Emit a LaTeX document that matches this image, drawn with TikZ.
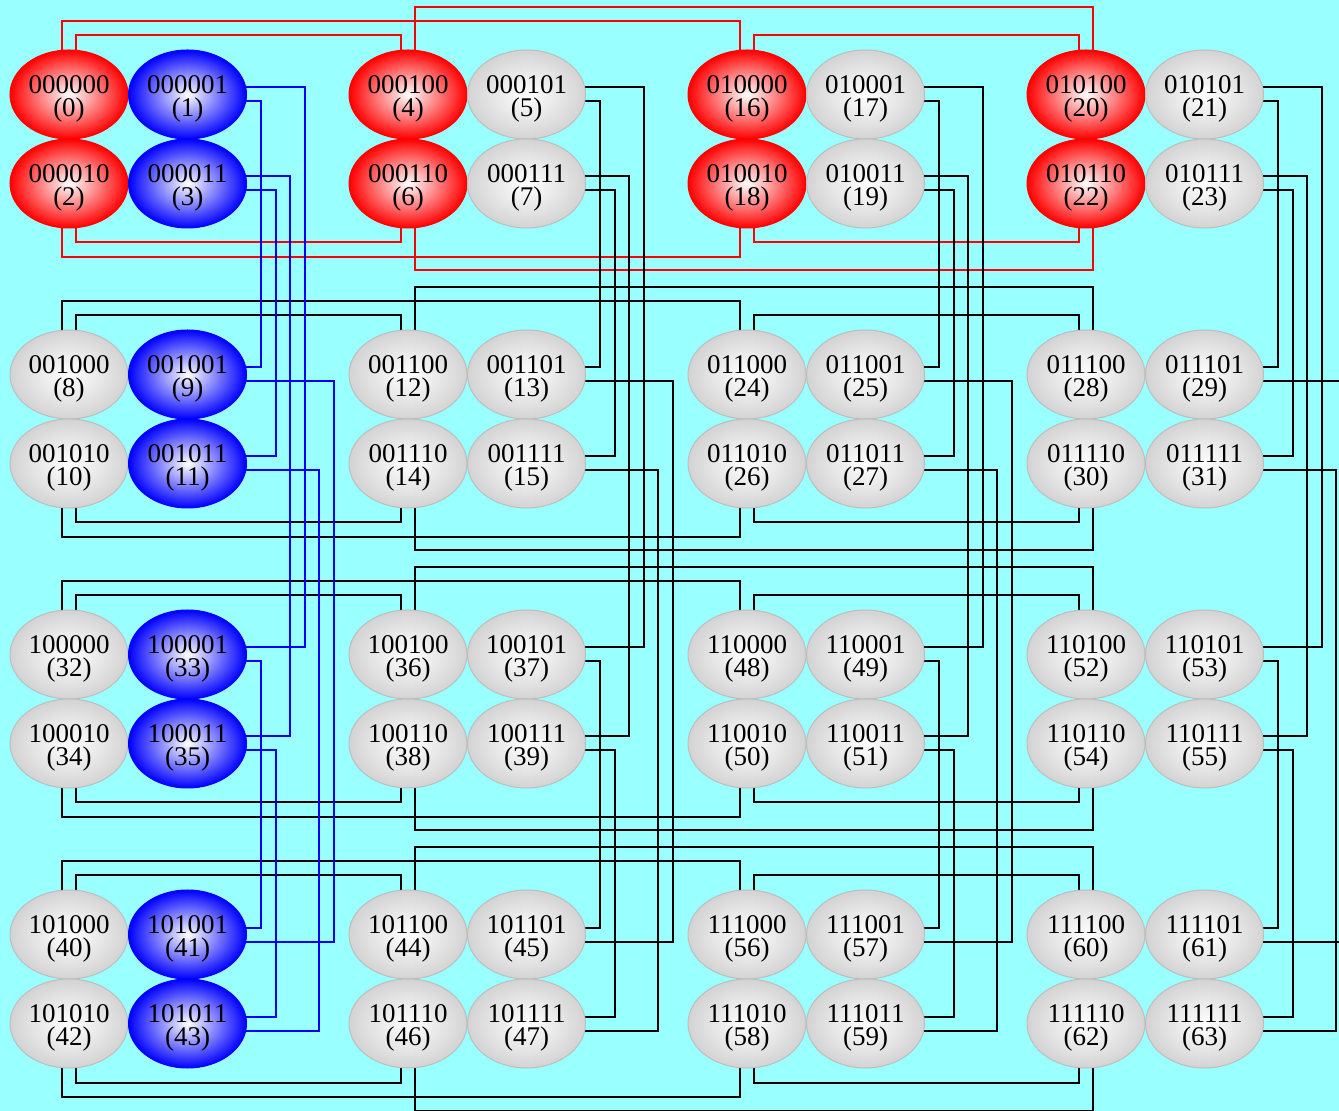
\documentclass[tikz,border=0pt]{standalone}
\usepackage{fontspec}
\setmainfont{Liberation Serif}
\usetikzlibrary{calc,shapes.geometric}
\definecolor{bgcyan}{RGB}{153,255,255}
\definecolor{cellgray}{RGB}{211,211,211}
\definecolor{rimgray}{RGB}{190,190,190}
\pgfdeclarelayer{back}
\pgfsetlayers{back,main}

\begin{document}
\begin{tikzpicture}[
    x=0.5pt,y=-0.5pt,
    cell/.style={ellipse,minimum width=59pt,minimum height=44.5pt,inner sep=0pt,
      align=center,text height=24.3pt,text depth=2.5pt,line width=0.5pt,
      font=\fontsize{13.5}{11.25}\selectfont,inner color=white},
    wire/.style={line width=1pt}
  ]
  \useasboundingbox (0,0) rectangle (1339,1111);
  \begin{pgfonlayer}{back}
    \fill[bgcyan] (0,0) rectangle (1339,1111);
  \end{pgfonlayer}

  % 64 cells, bits 0/1 inside a block, bits 2/4 across, bits 3/5 down
  \foreach \i in {0,...,63}{
    \pgfmathtruncatemacro\bz{mod(\i,2)}
    \pgfmathtruncatemacro\bo{mod(floor(\i/2),2)}
    \pgfmathtruncatemacro\btw{mod(floor(\i/4),2)}
    \pgfmathtruncatemacro\bth{mod(floor(\i/8),2)}
    \pgfmathtruncatemacro\bfo{mod(floor(\i/16),2)}
    \pgfmathtruncatemacro\bfi{floor(\i/32)}
    \pgfmathsetmacro\xc{69+339*(2*\bfo+\btw)+118.5*\bz}
    \pgfmathsetmacro\yc{94.5+280*(2*\bfi+\bth)+89*\bo}
    \pgfmathtruncatemacro\isred{(1-\bz)*(1-\bth)*(1-\bfi)}
    \pgfmathtruncatemacro\isblue{\bz*(1-\btw)*(1-\bfo)}
    \def\fc{cellgray}\def\rc{rimgray}
    \ifnum\isred=1 \def\fc{red}\def\rc{red}\fi
    \ifnum\isblue=1 \def\fc{blue}\def\rc{blue}\fi
    \node[cell,draw=\rc,outer color=\fc] (n\i) at (\xc,\yc) {\bfi\bfo\bth\btw\bo\bz\\(\i)};
  }

  \begin{pgfonlayer}{back}
    % even cells: links over bits 2 and 4, above or below the block
    \foreach \i in {0,2,...,62}{
      \pgfmathtruncatemacro\bo{mod(floor(\i/2),2)}
      \pgfmathtruncatemacro\btw{mod(floor(\i/4),2)}
      \pgfmathtruncatemacro\bth{mod(floor(\i/8),2)}
      \pgfmathtruncatemacro\bfo{mod(floor(\i/16),2)}
      \pgfmathtruncatemacro\bfi{floor(\i/32)}
      \pgfmathtruncatemacro\isred{(1-\bth)*(1-\bfi)}
      \def\wc{black}
      \ifnum\isred=1 \def\wc{red}\fi
      \def\sg{-1}
      \ifnum\bo=1 \def\sg{1}\fi
      \ifnum\btw=0
        \pgfmathtruncatemacro\j{\i+4}
        \draw[wire,draw=\wc] ($(n\i)+(7,0)$) -- ++(0,\sg*59) -| ($(n\j)+(-7,0)$);
      \fi
      \ifnum\bfo=0
        \pgfmathtruncatemacro\j{\i+16}
        \ifnum\btw=0
          \draw[wire,draw=\wc] ($(n\i)+(-7,0)$) -- ++(0,\sg*73.5) -| ($(n\j)+(-7,0)$);
        \else
          \draw[wire,draw=\wc] ($(n\i)+(7,0)$) -- ++(0,\sg*87) -| ($(n\j)+(7,0)$);
        \fi
      \fi
    }
    % odd cells: links over bits 3 and 5, to the right of the column
    \foreach \i in {1,3,...,63}{
      \pgfmathtruncatemacro\bo{mod(floor(\i/2),2)}
      \pgfmathtruncatemacro\btw{mod(floor(\i/4),2)}
      \pgfmathtruncatemacro\bth{mod(floor(\i/8),2)}
      \pgfmathtruncatemacro\bfo{mod(floor(\i/16),2)}
      \pgfmathtruncatemacro\bfi{floor(\i/32)}
      \pgfmathtruncatemacro\isblue{(1-\btw)*(1-\bfo)}
      \def\wc{black}
      \ifnum\isblue=1 \def\wc{blue}\fi
      \ifnum\bth=0
        \pgfmathtruncatemacro\j{\i+8}
        \pgfmathsetmacro\ch{73.5+14.6*\bo}
        \draw[wire,draw=\wc] ($(n\i)+(0,7)$) -| ($(n\j)+(\ch,-7)$) -- ($(n\j)+(0,-7)$);
      \fi
      \ifnum\bfi=0
        \pgfmathtruncatemacro\j{\i+32}
        \ifnum\bth=0
          \pgfmathsetmacro\ch{117.3-14.6*\bo}
          \draw[wire,draw=\wc] ($(n\i)+(0,-7)$) -| ($(n\j)+(\ch,-7)$) -- ($(n\j)+(0,-7)$);
        \else
          \pgfmathsetmacro\ch{146.5-14.6*\bo}
          \draw[wire,draw=\wc] ($(n\i)+(0,7)$) -| ($(n\j)+(\ch,7)$) -- ($(n\j)+(0,7)$);
        \fi
      \fi
    }
  \end{pgfonlayer}
\end{tikzpicture}
\end{document}
